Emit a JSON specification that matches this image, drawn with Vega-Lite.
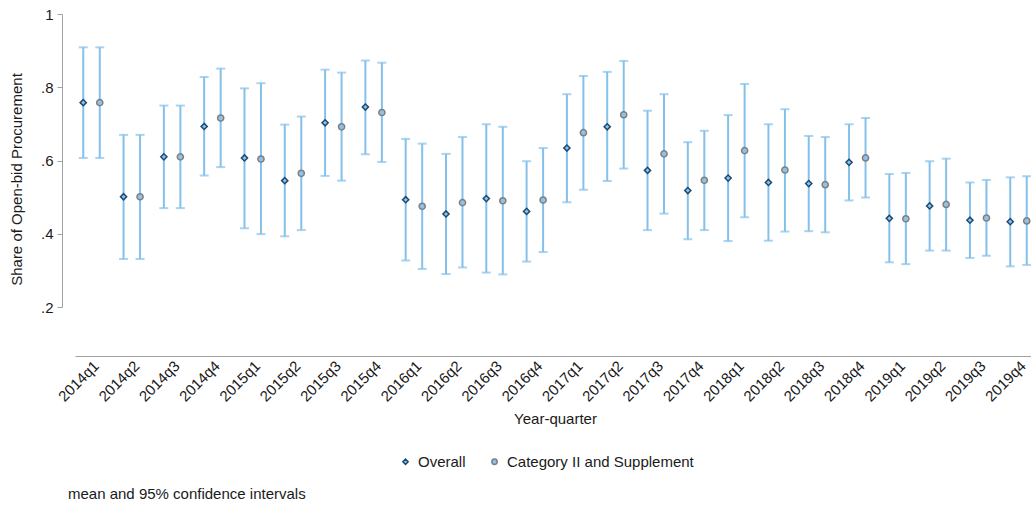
{
  "$schema": "https://vega.github.io/schema/vega-lite/v6.json",
  "width": 960,
  "height": 293,
  "autosize": {"type": "none"},
  "padding": {"left": 75, "top": 14, "right": 0, "bottom": 199},
  "background": "white",
  "config": {
    "view": {"stroke": null},
    "font": "Liberation Sans",
    "axis": {"labelColor": "#1a1a1a", "titleColor": "#1a1a1a", "domainColor": "#a0a0a0", "tickColor": "#a0a0a0", "grid": false, "labelFontSize": 15, "titleFontSize": 15, "titleFontWeight": "normal"},
    "legend": {"labelColor": "#1a1a1a"}
  },
  "title": {"text": "mean and 95% confidence intervals", "orient": "bottom", "anchor": "start", "frame": "group", "fontSize": 15, "fontWeight": "normal", "offset": 17, "dx": -7, "color": "#1a1a1a"},
  "data": {"values": [
    {"quarter": "2014q1", "series": "Overall", "mean": 0.758, "lo": 0.607, "hi": 0.909},
    {"quarter": "2014q1", "series": "Category II and Supplement", "mean": 0.758, "lo": 0.607, "hi": 0.909},
    {"quarter": "2014q2", "series": "Overall", "mean": 0.501, "lo": 0.331, "hi": 0.670},
    {"quarter": "2014q2", "series": "Category II and Supplement", "mean": 0.501, "lo": 0.331, "hi": 0.670},
    {"quarter": "2014q3", "series": "Overall", "mean": 0.610, "lo": 0.470, "hi": 0.750},
    {"quarter": "2014q3", "series": "Category II and Supplement", "mean": 0.610, "lo": 0.470, "hi": 0.750},
    {"quarter": "2014q4", "series": "Overall", "mean": 0.693, "lo": 0.559, "hi": 0.828},
    {"quarter": "2014q4", "series": "Category II and Supplement", "mean": 0.716, "lo": 0.582, "hi": 0.851},
    {"quarter": "2015q1", "series": "Overall", "mean": 0.607, "lo": 0.415, "hi": 0.797},
    {"quarter": "2015q1", "series": "Category II and Supplement", "mean": 0.604, "lo": 0.399, "hi": 0.811},
    {"quarter": "2015q2", "series": "Overall", "mean": 0.545, "lo": 0.393, "hi": 0.698},
    {"quarter": "2015q2", "series": "Category II and Supplement", "mean": 0.565, "lo": 0.410, "hi": 0.720},
    {"quarter": "2015q3", "series": "Overall", "mean": 0.703, "lo": 0.558, "hi": 0.848},
    {"quarter": "2015q3", "series": "Category II and Supplement", "mean": 0.692, "lo": 0.545, "hi": 0.840},
    {"quarter": "2015q4", "series": "Overall", "mean": 0.746, "lo": 0.617, "hi": 0.873},
    {"quarter": "2015q4", "series": "Category II and Supplement", "mean": 0.731, "lo": 0.596, "hi": 0.867},
    {"quarter": "2016q1", "series": "Overall", "mean": 0.493, "lo": 0.327, "hi": 0.659},
    {"quarter": "2016q1", "series": "Category II and Supplement", "mean": 0.475, "lo": 0.304, "hi": 0.646},
    {"quarter": "2016q2", "series": "Overall", "mean": 0.454, "lo": 0.290, "hi": 0.618},
    {"quarter": "2016q2", "series": "Category II and Supplement", "mean": 0.485, "lo": 0.308, "hi": 0.664},
    {"quarter": "2016q3", "series": "Overall", "mean": 0.496, "lo": 0.294, "hi": 0.699},
    {"quarter": "2016q3", "series": "Category II and Supplement", "mean": 0.490, "lo": 0.289, "hi": 0.692},
    {"quarter": "2016q4", "series": "Overall", "mean": 0.461, "lo": 0.324, "hi": 0.598},
    {"quarter": "2016q4", "series": "Category II and Supplement", "mean": 0.492, "lo": 0.350, "hi": 0.634},
    {"quarter": "2017q1", "series": "Overall", "mean": 0.634, "lo": 0.486, "hi": 0.781},
    {"quarter": "2017q1", "series": "Category II and Supplement", "mean": 0.676, "lo": 0.520, "hi": 0.831},
    {"quarter": "2017q2", "series": "Overall", "mean": 0.692, "lo": 0.544, "hi": 0.842},
    {"quarter": "2017q2", "series": "Category II and Supplement", "mean": 0.725, "lo": 0.578, "hi": 0.872},
    {"quarter": "2017q3", "series": "Overall", "mean": 0.573, "lo": 0.410, "hi": 0.736},
    {"quarter": "2017q3", "series": "Category II and Supplement", "mean": 0.618, "lo": 0.455, "hi": 0.781},
    {"quarter": "2017q4", "series": "Overall", "mean": 0.518, "lo": 0.385, "hi": 0.650},
    {"quarter": "2017q4", "series": "Category II and Supplement", "mean": 0.546, "lo": 0.410, "hi": 0.681},
    {"quarter": "2018q1", "series": "Overall", "mean": 0.552, "lo": 0.380, "hi": 0.724},
    {"quarter": "2018q1", "series": "Category II and Supplement", "mean": 0.627, "lo": 0.445, "hi": 0.809},
    {"quarter": "2018q2", "series": "Overall", "mean": 0.540, "lo": 0.381, "hi": 0.699},
    {"quarter": "2018q2", "series": "Category II and Supplement", "mean": 0.574, "lo": 0.406, "hi": 0.740},
    {"quarter": "2018q3", "series": "Overall", "mean": 0.537, "lo": 0.407, "hi": 0.667},
    {"quarter": "2018q3", "series": "Category II and Supplement", "mean": 0.534, "lo": 0.404, "hi": 0.664},
    {"quarter": "2018q4", "series": "Overall", "mean": 0.595, "lo": 0.491, "hi": 0.699},
    {"quarter": "2018q4", "series": "Category II and Supplement", "mean": 0.607, "lo": 0.499, "hi": 0.716},
    {"quarter": "2019q1", "series": "Overall", "mean": 0.442, "lo": 0.322, "hi": 0.563},
    {"quarter": "2019q1", "series": "Category II and Supplement", "mean": 0.441, "lo": 0.317, "hi": 0.566},
    {"quarter": "2019q2", "series": "Overall", "mean": 0.476, "lo": 0.354, "hi": 0.598},
    {"quarter": "2019q2", "series": "Category II and Supplement", "mean": 0.480, "lo": 0.354, "hi": 0.605},
    {"quarter": "2019q3", "series": "Overall", "mean": 0.437, "lo": 0.334, "hi": 0.540},
    {"quarter": "2019q3", "series": "Category II and Supplement", "mean": 0.443, "lo": 0.340, "hi": 0.547},
    {"quarter": "2019q4", "series": "Overall", "mean": 0.433, "lo": 0.311, "hi": 0.554},
    {"quarter": "2019q4", "series": "Category II and Supplement", "mean": 0.435, "lo": 0.315, "hi": 0.557}
  ]},
  "encoding": {
    "x": {
      "field": "quarter", "type": "nominal", "sort": null,
      "scale": {"paddingInner": 0.181, "paddingOuter": 0},
      "axis": {"title": "Year-quarter", "offset": 49, "ticks": false, "tickSize": 0, "labelAngle": -45, "labelAlign": "right", "labelBaseline": "top", "labelPadding": 2, "titlePadding": 8}
    },
    "xOffset": {
      "field": "series", "type": "nominal", "sort": ["Overall", "Category II and Supplement"],
      "scale": {"paddingInner": 0, "paddingOuter": 0}
    }
  },
  "layer": [
    {
      "mark": {"type": "rule", "color": "#85c0ea", "strokeWidth": 2},
      "encoding": {
        "y": {
          "field": "lo", "type": "quantitative",
          "scale": {"domain": [0.2, 1], "nice": false, "zero": false},
          "axis": {"title": "Share of Open-bid Procurement", "offset": 13, "values": [0.2, 0.4, 0.6, 0.8, 1], "tickSize": 5, "labelPadding": 4, "titlePadding": 16, "titleY": 165, "labelExpr": "datum.value >= 1 ? '1' : '.' + format(datum.value * 10, 'd')"}
        },
        "y2": {"field": "hi"}
      }
    },
    {
      "mark": {"type": "tick", "orient": "horizontal", "size": 9, "thickness": 2, "color": "#85c0ea"},
      "encoding": {"y": {"field": "lo", "type": "quantitative"}}
    },
    {
      "mark": {"type": "tick", "orient": "horizontal", "size": 9, "thickness": 2, "color": "#85c0ea"},
      "encoding": {"y": {"field": "hi", "type": "quantitative"}}
    },
    {
      "mark": {"type": "point", "filled": true, "fill": "#8dc3ea", "strokeWidth": 1.5, "size": 38, "opacity": 1},
      "encoding": {
        "y": {"field": "mean", "type": "quantitative"},
        "shape": {
          "field": "series", "type": "nominal",
          "scale": {"domain": ["Overall", "Category II and Supplement"], "range": ["diamond", "circle"]},
          "legend": {"title": null, "orient": "none", "legendX": 323, "legendY": 440, "direction": "horizontal", "symbolSize": 28, "labelFontSize": 15, "labelLimit": 400, "columnPadding": 21, "labelOffset": 5, "symbolStrokeWidth": 1.5}
        },
        "stroke": {
          "field": "series", "type": "nominal",
          "scale": {"domain": ["Overall", "Category II and Supplement"], "range": ["#1f4a70", "#7f7f7f"]},
          "legend": {"title": null, "orient": "none", "legendX": 323, "legendY": 440, "direction": "horizontal", "symbolSize": 28, "labelFontSize": 15, "labelLimit": 400, "columnPadding": 21, "labelOffset": 5, "symbolStrokeWidth": 1.5}
        }
      }
    }
  ]
}
